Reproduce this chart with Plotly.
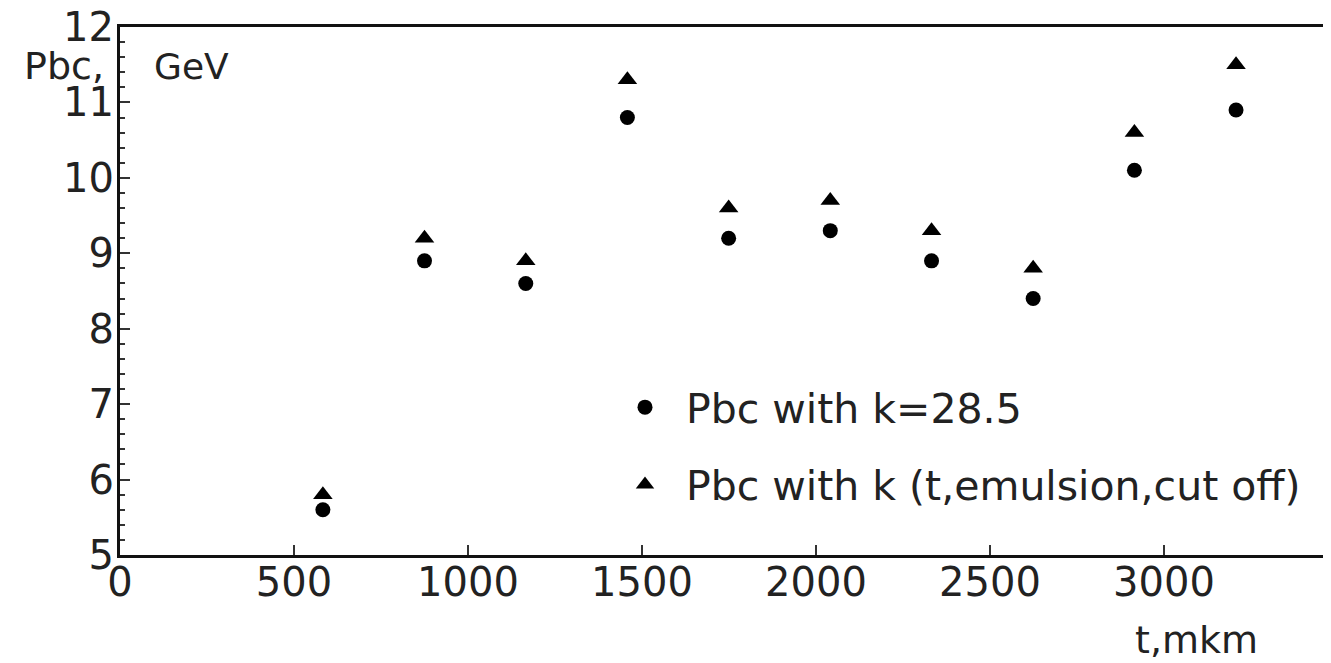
import plotly.graph_objects as go

# Data
t_mkm = [583, 875, 1166, 1458, 1749, 2041, 2332, 2624, 2915, 3207]
pbc_k285 = [5.6, 8.9, 8.6, 10.8, 9.2, 9.3, 8.9, 8.4, 10.1, 10.9]
pbc_kvar = [5.8, 9.2, 8.9, 11.3, 9.6, 9.7, 9.3, 8.8, 10.6, 11.5]

series_names = ["Pbc with k=28.5", "Pbc with k (t,emulsion,cut off)"]
x_ticks = [0, 500, 1000, 1500, 2000, 2500, 3000]
y_ticks = [5, 6, 7, 8, 9, 10, 11, 12]

FONT = "DejaVu Sans"
TXT = "#222222"

# the page body adds an 8px margin; screen coords -> figure coords
OFF = 8
W, H = 1331 - OFF, 663 - OFF
PL, PT, PB, PR = 120, 27, 555, 1330          # plot area in screen px
L, T = PL - OFF, PT - OFF
B = H - (PB - OFF)
R = W - (PR - OFF)
PW, PH = W - L - R, H - T - B

fig = go.Figure()
fig.add_trace(go.Scatter(
    x=t_mkm, y=pbc_k285, mode="markers", name=series_names[0],
    legendgroup="a",
    marker=dict(symbol="circle", size=15, color="black", line=dict(width=0)),
))
fig.add_trace(go.Scatter(
    x=t_mkm, y=pbc_kvar, mode="markers", name=series_names[1],
    legendgroup="b",
    marker=dict(symbol="triangle-up", size=17, color="black", line=dict(width=0)),
))

fig.update_layout(
    width=W, height=H,
    margin=dict(l=L, r=R, t=T, b=B, pad=0, autoexpand=False),
    paper_bgcolor="white", plot_bgcolor="white",
    font=dict(family=FONT, color=TXT, size=40),
    showlegend=True,
    legend=dict(
        x=(604 - PL) / PW, y=(PB - 374) / PH,
        xanchor="left", yanchor="top",
        bgcolor="rgba(0,0,0,0)", borderwidth=0,
        font=dict(family=FONT, size=41, color=TXT),
        tracegroupgap=21, traceorder="grouped",
        itemsizing="trace", itemwidth=72,
    ),
    xaxis=dict(
        range=[0, 3477], tickvals=x_ticks, ticktext=[str(v) for v in x_ticks],
        showgrid=False, zeroline=False, automargin=False,
        showline=True, linecolor="#111", linewidth=3, mirror=True,
        ticks="inside", ticklen=10, tickwidth=1.5, tickcolor="#333",
        tickfont=dict(family=FONT, size=40, color=TXT),
        ticklabelstandoff=-10, ticklabeloverflow="allow",
    ),
    yaxis=dict(
        range=[5, 12], tickvals=y_ticks, ticktext=[str(v) for v in y_ticks],
        showgrid=False, zeroline=False, automargin=False,
        showline=True, linecolor="#111", linewidth=3, mirror=False,
        ticks="inside", ticklen=10, tickwidth=1.5, tickcolor="#333",
        minor=dict(dtick=0.2, tick0=5, ticks="inside", ticklen=5, tickwidth=1.5, tickcolor="#333", showgrid=False),
        tickfont=dict(family=FONT, size=40, color=TXT),
        ticklabelstandoff=-5, ticklabeloverflow="allow",
    ),
)

# right frame edge (thin)
fig.add_shape(type="line", xref="paper", yref="paper", x0=1, x1=1, y0=0, y1=1,
              line=dict(color="#999", width=1.5))

# axis titles (positions given in screen px)
fig.add_annotation(text="Pbc,", xref="paper", yref="paper", x=0, y=1,
                   xshift=22 - PL, yshift=-(66 - PT), xanchor="left", yanchor="middle",
                   showarrow=False, font=dict(family=FONT, size=38, color=TXT))
fig.add_annotation(text="GeV", xref="paper", yref="paper", x=0, y=1,
                   xshift=152 - PL, yshift=-(66 - PT), xanchor="left", yanchor="middle",
                   showarrow=False, font=dict(family=FONT, size=36, color=TXT))
fig.add_annotation(text="t,mkm", xref="paper", yref="paper", x=0, y=0,
                   xshift=1133 - PL, yshift=-(640 - PB), xanchor="left", yanchor="middle",
                   showarrow=False, font=dict(family=FONT, size=38, color=TXT))

fig.write_html("out.html")
